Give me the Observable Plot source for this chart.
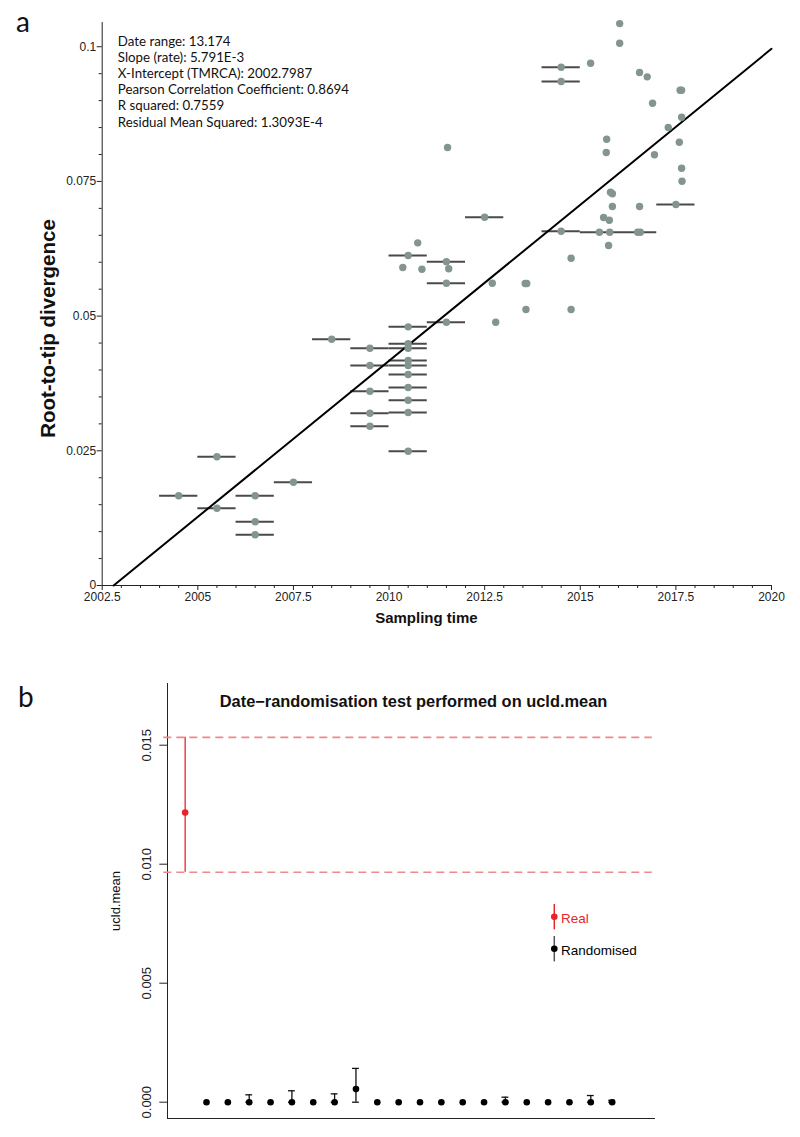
<!DOCTYPE html>
<html><head><meta charset="utf-8">
<script src="https://cdn.jsdelivr.net/npm/d3@7"></script>
<script src="https://cdn.jsdelivr.net/npm/@observablehq/plot@0.6"></script>
<style>
body{margin:0;background:#fff;}
#fig{position:relative;width:800px;height:1137px;background:#fff;overflow:hidden;}
#pa{position:absolute;left:0;top:0;}
#pb{position:absolute;left:0;top:640px;}
</style></head><body>
<div id="fig"><div id="pa"></div><div id="pb"></div></div>
<script>
// ---------- Panel a data ----------
// tips with year-only sampling dates (plotted at mid-year with a 1-year bar)
const rangeYear = [2004.5, 2005.5, 2005.5, 2006.5, 2006.5, 2006.5, 2007.5, 2008.5,
  2009.5, 2009.5, 2009.5, 2009.5, 2009.5,
  2010.5, 2010.5, 2010.5, 2010.5, 2010.5, 2010.5, 2010.5, 2010.5, 2010.5, 2010.5, 2010.5,
  2011.5, 2011.5, 2011.5, 2012.5, 2014.5, 2014.5, 2014.5, 2015.5, 2016.5, 2017.5];
const rangeDiv = [0.01665, 0.02389, 0.01435, 0.01665, 0.01182, 0.00941, 0.01917, 0.04571,
  0.04404, 0.04083, 0.03606, 0.03198, 0.02957,
  0.06125, 0.04801, 0.04486, 0.04404, 0.04176, 0.04083, 0.03916, 0.03675, 0.03439, 0.03211, 0.02493,
  0.06008, 0.05611, 0.04887, 0.06836, 0.0962, 0.09354, 0.06576, 0.06557, 0.06557, 0.07071];
// tips with precise sampling dates
const exactYear = [2010.36, 2010.75, 2010.86, 2011.53, 2011.56, 2012.70, 2012.79, 2013.56, 2013.60, 2013.58,
  2014.76, 2014.76, 2015.27, 2015.61, 2015.68, 2015.69, 2015.74, 2015.76, 2015.77, 2015.79,
  2015.84, 2015.84, 2016.03, 2016.03, 2016.55, 2016.55, 2016.57, 2016.75, 2016.89, 2016.94,
  2017.30, 2017.59, 2017.61, 2017.65, 2017.65, 2017.65, 2017.66];
const exactDiv = [0.05902, 0.0636, 0.05871, 0.08129, 0.05878, 0.05611, 0.04887, 0.05605, 0.05605, 0.05123,
  0.06075, 0.05123, 0.09694, 0.0683, 0.08036, 0.08283, 0.0631, 0.0678, 0.06557, 0.073,
  0.0727, 0.07034, 0.1043, 0.10065, 0.09521, 0.07034, 0.06557, 0.09441, 0.08951, 0.07994,
  0.085, 0.08228, 0.09193, 0.09193, 0.08692, 0.07745, 0.07504];
const statsLines = ["Date range: 13.174", "Slope (rate): 5.791E-3", "X-Intercept (TMRCA): 2002.7987",
  "Pearson Correlation Coefficient: 0.8694", "R squared: 0.7559", "Residual Mean Squared: 1.3093E-4"];
const slope = 5.791e-3;
const xIntercept = 2002.7987;
const xTicksA = [2002.5, 2005, 2007.5, 2010, 2012.5, 2015, 2017.5, 2020];
const yTicksA = [0, 0.025, 0.05, 0.075, 0.1];

// ---------- Panel b data ----------
const realIndex = [1];
const realMean = [0.01217];
const realLower = [0.00966];
const realUpper = [0.01533];
const randIndex = [2,3,4,5,6,7,8,9,10,11,12,13,14,15,16,17,18,19,20,21];
const randMean  = [0,0,0,0,0,0,0,0.00055,0,0,0,0,0,0,0,0,0,0,0,0];
const randLower = [0,0,0,0,0,0,0,0,0,0,0,0,0,0,0,0,0,0,0,0];
const randUpper = [0,0,0.00031,0,0.00048,0,0.00035,0.00142,0,0,0,0,0,0,0.00021,0,0,0,0.00028,0.00008];
const yTicksB = [0, 0.005, 0.010, 0.015];
const legendItems = [{label: "Real", color: "#e8242a", line: "#e8242a"}, {label: "Randomised", color: "#000", line: "#555"}];

const axisFont = "'Liberation Sans', Arial, Helvetica, sans-serif";
const textFont = "Lato, 'Open Sans', sans-serif";

// ---------- Panel a ----------
const ptsRange = rangeYear.map((x, i) => ({x, y: rangeDiv[i]}));
const ptsExact = exactYear.map((x, i) => ({x, y: exactDiv[i]}));
const xDomA = [xTicksA[0], xTicksA[xTicksA.length - 1]];
const regLine = [{x: xIntercept, y: 0}, {x: xDomA[1], y: slope * (xDomA[1] - xIntercept)}];
const xMinorA = d3.range(xDomA[0], xDomA[1] + 0.01, 0.5).filter(v => !xTicksA.includes(v));
const yMinorA = d3.range(0, 0.1001, 0.005).filter(v => !yTicksA.some(t => Math.abs(t - v) < 1e-9));

const plotA = Plot.plot({
  width: 800, height: 645,
  marginLeft: 101.7, marginRight: 29, marginTop: 22, marginBottom: 60,
  x: {domain: xDomA, axis: null},
  y: {domain: [0, 0.1045], axis: null},
  style: {fontFamily: axisFont, fontSize: "12px", background: "white", overflow: "visible", color: "#222"},
  marks: [
    Plot.axisX(xTicksA, {tickSize: 5, tickPadding: 2, tickFormat: d => String(d), label: null, fontSize: 12}),
    Plot.axisX(xMinorA, {tickSize: 3, tickFormat: () => "", label: null}),
    Plot.axisY(yTicksA, {tickSize: 5, tickPadding: 1, tickFormat: d => String(d), label: null, fontSize: 12}),
    Plot.axisY(yMinorA, {tickSize: 3, tickFormat: () => "", label: null}),
    Plot.ruleX([xDomA[0]], {stroke: "#222"}),
    Plot.ruleY([0], {stroke: "#222"}),
    Plot.ruleY(ptsRange, {x1: d => d.x - 0.5, x2: d => d.x + 0.5, y: "y", stroke: "#4a4a4a", strokeWidth: 2}),
    Plot.line(regLine, {x: "x", y: "y", stroke: "#000", strokeWidth: 2}),
    Plot.dot(ptsRange.concat(ptsExact), {x: "x", y: "y", r: 3.7, fill: "#84958f", stroke: "none"}),
    Plot.text([statsLines.join("\n")], {text: d => d, frameAnchor: "top-left", dx: 15.6, dy: 11.6,
      lineAnchor: "top", lineHeight: 1.218, textAnchor: "start", fontFamily: textFont, fontSize: 13.3, fill: "#111"}),
    Plot.text(["Sampling time"], {text: d => d, frameAnchor: "bottom", textAnchor: "middle", dx: -10.4, dy: 37.5,
      fontWeight: "bold", fontSize: 15, fontFamily: axisFont, fill: "#111"}),
    Plot.text(["Root-to-tip divergence"], {text: d => d, frameAnchor: "left", textAnchor: "middle", dx: -54.2, dy: 24.5, rotate: -90,
      fontWeight: "bold", fontSize: 20.5, fontFamily: axisFont, fill: "#111"})
  ]
});
d3.select(plotA).append("text").attr("x", 16).attr("y", 32).attr("text-anchor", "start")
  .attr("font-family", textFont).attr("font-size", 28).attr("fill", "#111").text("a");
document.getElementById("pa").appendChild(plotA);

// ---------- Panel b ----------
const real = realIndex.map((i, k) => ({i, m: realMean[k], lo: realLower[k], hi: realUpper[k]}));
const rand = randIndex.map((i, k) => ({i, m: randMean[k], lo: randLower[k], hi: randUpper[k]}));
const withBars = rand.filter(d => d.hi > d.lo);
const capHalf = 0.16;
const xDomB = [0.173, 23.03];
const yDomB = [-0.000685, 0.017592];

const plotB = Plot.plot({
  width: 800, height: 497,
  marginLeft: 167, marginRight: 145, marginTop: 43, marginBottom: 19,
  x: {domain: xDomB, axis: null},
  y: {domain: yDomB, axis: null},
  style: {fontFamily: axisFont, fontSize: "13px", background: "white", overflow: "visible", color: "#222"},
  marks: [
    Plot.axisY(yTicksB, {tickSize: 7.7, tickFormat: () => "", label: null}),
    Plot.text(yTicksB, {y: d => d, text: d3.format(".3f"), frameAnchor: "left", textAnchor: "middle", dx: -20.5, rotate: -90,
      fontSize: 13, fontFamily: axisFont, fill: "#222"}),
    Plot.ruleX([xDomB[0]], {stroke: "#222"}),
    Plot.ruleY([yDomB[0]], {stroke: "#222"}),
    Plot.ruleY(real.flatMap(d => [d.lo, d.hi]), {y: d => d, x2: 22.88, stroke: "#f08a8a", strokeWidth: 1.6, strokeDasharray: "8,5"}),
    Plot.ruleX(real, {x: "i", y1: "lo", y2: "hi", stroke: "#e8242a", strokeWidth: 1.3}),
    Plot.ruleX(withBars, {x: "i", y1: "lo", y2: "hi", stroke: "#111", strokeWidth: 1.3}),
    Plot.ruleY(withBars, {x1: d => d.i - capHalf, x2: d => d.i + capHalf, y: "hi", stroke: "#111", strokeWidth: 1.3}),
    Plot.ruleY(withBars, {x1: d => d.i - capHalf, x2: d => d.i + capHalf, y: "lo", stroke: "#111", strokeWidth: 1.3}),
    Plot.dot(rand, {x: "i", y: "m", r: 3.3, fill: "#000"}),
    Plot.dot(real, {x: "i", y: "m", r: 3.3, fill: "#e8242a"}),
    Plot.text(["Date\u2212randomisation test performed on ucld.mean"], {text: d => d, frameAnchor: "top", textAnchor: "middle", dx: 2, dy: 12,
      fontWeight: "bold", fontSize: 16.4, fontFamily: axisFont, fill: "#111"}),
    Plot.text(["ucld.mean"], {text: d => d, frameAnchor: "left", textAnchor: "middle", dx: -52, rotate: -90,
      fontSize: 13, fontFamily: axisFont, fill: "#111"})
  ]
});
const svgB = d3.select(plotB);
svgB.append("text").attr("x", 18).attr("y", 67).attr("text-anchor", "start")
  .attr("font-family", textFont).attr("font-size", 28).attr("fill", "#111").text("b");
const lg = svgB.append("g").attr("transform", "translate(554.3,276.7)");
legendItems.forEach((it, k) => {
  const g = lg.append("g").attr("transform", `translate(0,${k * 32})`);
  g.append("line").attr("x1", 0).attr("x2", 0).attr("y1", -12.7).attr("y2", 12.7)
    .attr("stroke", it.line).attr("stroke-width", 1.5);
  g.append("circle").attr("r", 3.3).attr("fill", it.color);
  g.append("text").attr("x", 6.7).attr("y", 6).attr("text-anchor", "start").attr("font-family", axisFont).attr("font-size", 13.5)
    .attr("fill", it.color).text(it.label);
});
document.getElementById("pb").appendChild(plotB);
</script>
</body></html>
